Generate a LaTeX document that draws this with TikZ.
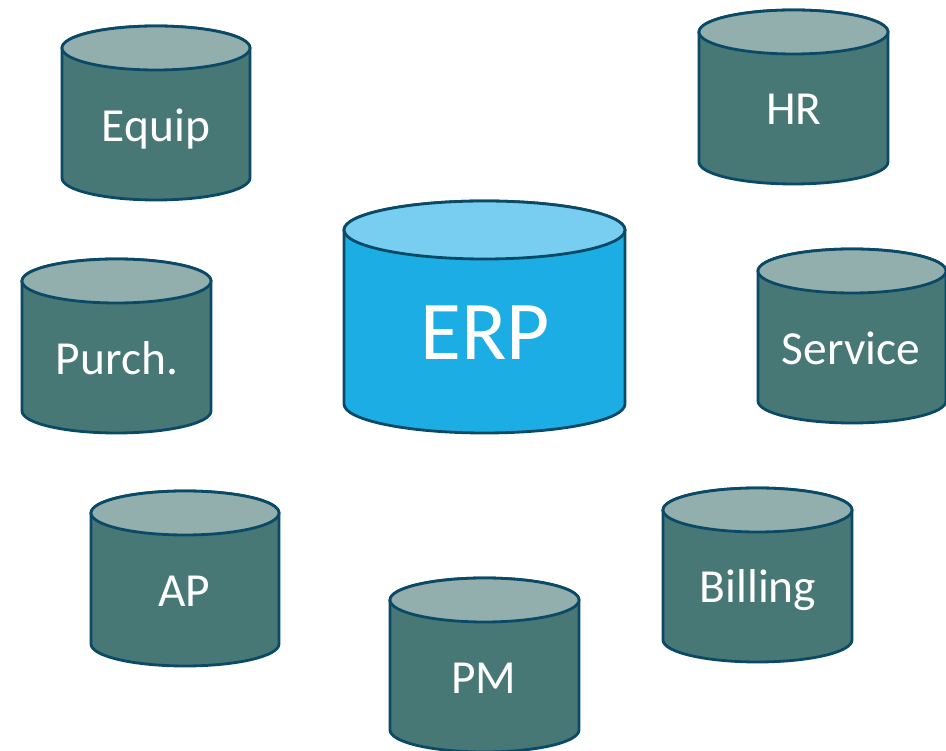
\documentclass[tikz,border=0pt]{standalone}
\usepackage{fontspec}
\setmainfont{Carlito}
\definecolor{drumbody}{HTML}{487875}
\definecolor{drumtop}{HTML}{92AFAD}
\definecolor{erpbody}{HTML}{1CADE4}
\definecolor{erptop}{HTML}{77CEF0}
\definecolor{drumline}{HTML}{0B4A66}
\tikzset{
  smalldrum/.style={draw=drumline, line width=0.8pt, fill=drumbody},
  smalltop/.style={draw=drumline, line width=0.8pt, fill=drumtop},
  bigdrum/.style={draw=drumline, line width=0.8pt, fill=erpbody},
  bigtop/.style={draw=drumline, line width=0.8pt, fill=erptop},
  smalllabel/.style={text=white, font=\fontsize{13.5pt}{16pt}\selectfont, inner sep=0pt},
  biglabel/.style={text=white, font=\fontsize{23.8pt}{28pt}\selectfont, inner sep=0pt}
}
\begin{document}
\begin{tikzpicture}
    \useasboundingbox (0, 0) rectangle (9.46, -7.51);
    \clip (0, 0) rectangle (9.46, -7.51);

    \draw[smalldrum] (0.62, -0.48)--(0.62, -1.78) arc (180:360:0.94 and 0.22)--(2.50, -0.48) arc (0:180:0.94 and 0.22)--cycle;
    \draw[smalltop] (1.56, -0.48) ellipse (0.94 and 0.22);
    \node[smalllabel] (equip) at (1.56, -1.29) {Equip};

    \draw[smalldrum] (6.99, -0.32)--(6.99, -1.62) arc (180:360:0.945 and 0.22)--(8.88, -0.32) arc (0:180:0.945 and 0.22)--cycle;
    \draw[smalltop] (7.935, -0.32) ellipse (0.945 and 0.22);
    \node[smalllabel] (hr) at (7.94, -1.09) {HR};

    \draw[smalldrum] (0.22, -2.81)--(0.22, -4.11) arc (180:360:0.945 and 0.22)--(2.11, -2.81) arc (0:180:0.945 and 0.22)--cycle;
    \draw[smalltop] (1.165, -2.81) ellipse (0.945 and 0.22);
    \node[smalllabel] (purch) at (1.17, -3.58) {Purch.};

    \draw[smalldrum] (7.58, -2.71)--(7.58, -4.01) arc (180:360:0.94 and 0.22)--(9.46, -2.71) arc (0:180:0.94 and 0.22)--cycle;
    \draw[smalltop] (8.52, -2.71) ellipse (0.94 and 0.22);
    \node[smalllabel] (service) at (8.51, -3.48) {Service};

    \draw[smalldrum] (0.91, -5.13)--(0.91, -6.44) arc (180:360:0.94 and 0.22)--(2.79, -5.13) arc (0:180:0.94 and 0.22)--cycle;
    \draw[smalltop] (1.85, -5.13) ellipse (0.94 and 0.22);
    \node[smalllabel] (ap) at (1.84, -5.91) {AP};

    \draw[smalldrum] (3.90, -6.00)--(3.90, -7.30) arc (180:360:0.945 and 0.22)--(5.79, -6.00) arc (0:180:0.945 and 0.22)--cycle;
    \draw[smalltop] (4.845, -6.00) ellipse (0.945 and 0.22);
    \node[smalllabel] (pm) at (4.84, -6.78) {PM};

    \draw[smalldrum] (6.63, -5.10)--(6.63, -6.40) arc (180:360:0.945 and 0.22)--(8.52, -5.10) arc (0:180:0.945 and 0.22)--cycle;
    \draw[smalltop] (7.575, -5.10) ellipse (0.945 and 0.22);
    \node[smalllabel] (billing) at (7.58, -5.90) {Billing};

    \draw[bigdrum] (3.44, -2.30)--(3.44, -4.04) arc (180:360:1.405 and 0.29)--(6.25, -2.30) arc (0:180:1.405 and 0.29)--cycle;
    \draw[bigtop] (4.845, -2.30) ellipse (1.405 and 0.29);
    \node[biglabel] (erp) at (4.85, -3.33) {ERP};
  \end{tikzpicture}
\end{document}
